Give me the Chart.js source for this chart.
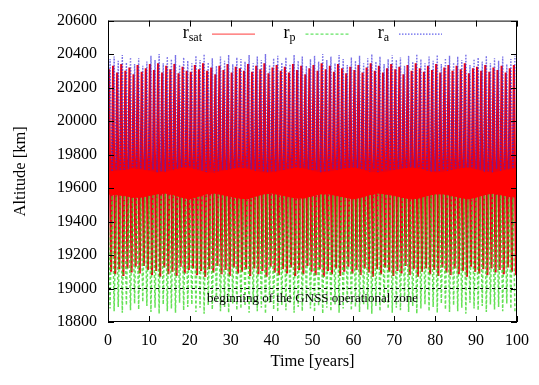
<!DOCTYPE html>
<html>
<head>
<meta charset="utf-8">
<title>Altitude over 100 years</title>
<script src="https://cdn.jsdelivr.net/npm/chart.js@4.4.0/dist/chart.umd.min.js"></script>
<style>
  html, body { margin: 0; padding: 0; background: #fff; }
</style>
</head>
<body>
<canvas id="altChart" width="539" height="385"></canvas>
<script>
// Values (km). One entry per ~1 year oscillation.
const raPeak = [
  20370, 20385, 20360, 20395, 20350, 20380, 20340, 20375, 20330, 20355,
  20390, 20365, 20400, 20345, 20385, 20370, 20395, 20335, 20380, 20360,
  20345, 20390, 20365, 20400, 20350, 20375, 20330, 20385, 20360, 20395,
  20340, 20380, 20370, 20355, 20395, 20345, 20385, 20365, 20400, 20335,
  20375, 20390, 20350, 20380, 20340, 20395, 20360, 20385, 20330, 20370,
  20390, 20355, 20400, 20365, 20385, 20345, 20395, 20370, 20335, 20380,
  20360, 20390, 20345, 20375, 20400, 20355, 20385, 20340, 20370, 20395,
  20365, 20380, 20330, 20390, 20355, 20400, 20370, 20345, 20385, 20360,
  20395, 20340, 20375, 20390, 20350, 20385, 20365, 20400, 20335, 20370,
  20380, 20355, 20390, 20345, 20375, 20360, 20385, 20340, 20370, 20390
];
const raTrough = [
  19700, 19690, 19710, 19695, 19705, 19685, 19700, 19715, 19690, 19705,
  19695, 19710, 19685, 19700, 19690, 19715, 19700, 19695, 19705, 19690,
  19710, 19700, 19685, 19705, 19695, 19715, 19690, 19700, 19710, 19695,
  19705, 19685, 19700, 19715, 19690, 19705, 19695, 19710, 19700, 19685,
  19700, 19690, 19710, 19695, 19705, 19685, 19700, 19715, 19690, 19705,
  19695, 19710, 19685, 19700, 19690, 19715, 19700, 19695, 19705, 19690,
  19710, 19700, 19685, 19705, 19695, 19715, 19690, 19700, 19710, 19695,
  19705, 19685, 19700, 19715, 19690, 19705, 19695, 19710, 19700, 19685,
  19700, 19690, 19710, 19695, 19705, 19685, 19700, 19715, 19690, 19705,
  19695, 19710, 19685, 19700, 19690, 19715, 19700, 19695, 19705, 19690
];
const rpPeak = [
  19575, 19585, 19565, 19580, 19570, 19590, 19575, 19560, 19585, 19570,
  19580, 19565, 19590, 19575, 19585, 19560, 19575, 19580, 19570, 19585,
  19565, 19575, 19590, 19570, 19580, 19560, 19585, 19575, 19565, 19580,
  19570, 19590, 19575, 19560, 19585, 19570, 19580, 19565, 19575, 19590,
  19575, 19585, 19565, 19580, 19570, 19590, 19575, 19560, 19585, 19570,
  19580, 19565, 19590, 19575, 19585, 19560, 19575, 19580, 19570, 19585,
  19565, 19575, 19590, 19570, 19580, 19560, 19585, 19575, 19565, 19580,
  19570, 19590, 19575, 19560, 19585, 19570, 19580, 19565, 19575, 19590,
  19575, 19585, 19565, 19580, 19570, 19590, 19575, 19560, 19585, 19570,
  19580, 19565, 19590, 19575, 19585, 19560, 19575, 19580, 19570, 19585
];
const rpTrough = [
  18880, 18865, 18890, 18855, 18900, 18870, 18910, 18875, 18920, 18895,
  18860, 18885, 18850, 18905, 18865, 18880, 18855, 18915, 18870, 18890,
  18905, 18860, 18885, 18850, 18900, 18875, 18920, 18865, 18890, 18855,
  18910, 18870, 18880, 18895, 18855, 18905, 18865, 18885, 18850, 18915,
  18875, 18860, 18900, 18870, 18910, 18855, 18890, 18865, 18920, 18880,
  18860, 18895, 18850, 18885, 18865, 18905, 18855, 18880, 18915, 18870,
  18890, 18860, 18905, 18875, 18850, 18895, 18865, 18910, 18880, 18855,
  18885, 18870, 18920, 18860, 18895, 18850, 18880, 18905, 18865, 18890,
  18855, 18910, 18875, 18860, 18900, 18865, 18885, 18850, 18915, 18880,
  18870, 18895, 18860, 18905, 18875, 18890, 18865, 18910, 18880, 18860
];
const satHigh = [
  20310, 20330, 20290, 20340, 20300, 20320, 20280, 20335, 20295, 20315,
  20340, 20305, 20345, 20290, 20330, 20310, 20340, 20285, 20325, 20300,
  20295, 20335, 20310, 20345, 20300, 20320, 20280, 20330, 20305, 20340,
  20290, 20325, 20315, 20300, 20340, 20295, 20330, 20310, 20345, 20285,
  20320, 20335, 20300, 20325, 20290, 20340, 20305, 20330, 20280, 20315,
  20335, 20300, 20345, 20310, 20330, 20295, 20340, 20315, 20285, 20325,
  20305, 20335, 20290, 20320, 20345, 20300, 20330, 20290, 20315, 20340,
  20310, 20325, 20280, 20335, 20300, 20345, 20315, 20295, 20330, 20305,
  20340, 20290, 20320, 20335, 20300, 20330, 20310, 20345, 20285, 20315,
  20325, 20300, 20335, 20295, 20320, 20305, 20330, 20290, 20315, 20335
];
const satLow = [
  19100, 19085, 19115, 19075, 19120, 19095, 19130, 19090, 19135, 19110,
  19080, 19105, 19070, 19125, 19085, 19100, 19075, 19130, 19090, 19110,
  19120, 19080, 19105, 19070, 19115, 19095, 19135, 19085, 19110, 19075,
  19125, 19090, 19100, 19115, 19075, 19120, 19085, 19105, 19070, 19130,
  19095, 19080, 19115, 19090, 19125, 19075, 19110, 19085, 19135, 19100,
  19080, 19115, 19070, 19105, 19085, 19120, 19075, 19100, 19130, 19090,
  19110, 19080, 19120, 19095, 19070, 19115, 19085, 19125, 19100, 19075,
  19105, 19090, 19135, 19080, 19115, 19070, 19100, 19120, 19085, 19110,
  19075, 19125, 19095, 19080, 19120, 19085, 19105, 19070, 19130, 19100,
  19090, 19115, 19080, 19120, 19095, 19110, 19085, 19125, 19100, 19080
];
// dense red band of r_sat, every 2 years
const bandTop = [
  19695, 19700, 19705, 19715, 19710, 19700, 19690, 19695, 19705, 19720,
  19720, 19705, 19690, 19690, 19700, 19710, 19720, 19715, 19700, 19690,
  19690, 19700, 19710, 19720, 19715, 19700, 19690, 19695, 19705, 19715,
  19720, 19710, 19695, 19690, 19695, 19705, 19715, 19720, 19715, 19700,
  19690, 19695, 19705, 19715, 19720, 19710, 19695, 19690, 19700, 19710,
  19715
];
const bandBottom = [
  19565, 19560, 19555, 19545, 19545, 19555, 19565, 19570, 19560, 19545,
  19535, 19550, 19565, 19570, 19560, 19550, 19540, 19535, 19550, 19565,
  19570, 19560, 19550, 19540, 19540, 19555, 19565, 19565, 19555, 19545,
  19535, 19545, 19560, 19570, 19565, 19555, 19545, 19535, 19540, 19555,
  19565, 19565, 19555, 19545, 19535, 19545, 19560, 19570, 19560, 19550,
  19545
];

const xTicks = [0, 10, 20, 30, 40, 50, 60, 70, 80, 90, 100];
const yTicks = [18800, 19000, 19200, 19400, 19600, 19800, 20000, 20200, 20400, 20600];
const seriesNames = ['r', 'r', 'r'];
const seriesSubs = ['sat', 'p', 'a'];
const zoneStart = 19000;
const zoneLabel = 'beginning of the GNSS operational zone';

const serif = '"Liberation Serif", "DejaVu Serif", serif';

// two points per cycle: first array at offset a, second at offset b
function zigzag(first, second, a, b) {
  const pts = [];
  for (let i = 0; i < first.length; i++) {
    pts.push({ x: i + a, y: first[i] });
    pts.push({ x: i + b, y: second[i] });
  }
  return pts;
}

function band(vals) {
  return vals.map((v, i) => ({ x: i * 2, y: v }));
}

// ticks inside on all four sides, frame, legend and zone label
const gnuFrame = {
  id: 'gnuFrame',
  afterDraw(chart) {
    const { ctx, chartArea: a, scales: { x, y } } = chart;
    ctx.save();
    ctx.strokeStyle = '#000';
    ctx.lineWidth = 1;
    ctx.setLineDash([]);
    ctx.beginPath();
    xTicks.forEach(v => {
      const px = Math.round(x.getPixelForValue(v)) + 0.5;
      ctx.moveTo(px, a.bottom); ctx.lineTo(px, a.bottom - 6);
      ctx.moveTo(px, a.top); ctx.lineTo(px, a.top + 6);
    });
    yTicks.forEach(v => {
      const py = Math.round(y.getPixelForValue(v)) + 0.5;
      ctx.moveTo(a.left, py); ctx.lineTo(a.left + 6, py);
      ctx.moveTo(a.right, py); ctx.lineTo(a.right - 6, py);
    });
    ctx.stroke();
    ctx.strokeRect(a.left + 0.5, a.top + 0.5, a.width - 1, a.height - 1);

    // zone label
    ctx.fillStyle = '#000';
    ctx.font = '13px ' + serif;
    ctx.textAlign = 'center';
    ctx.textBaseline = 'middle';
    ctx.fillText(zoneLabel, x.getPixelForValue(50), y.getPixelForValue(zoneStart) + 10);

    // legend: text then line sample
    const ds = chart.data.datasets;
    const sampleColors = ['rgb(255,60,60)', 'rgb(60,220,60)', 'rgb(60,60,230)'];
    for (let i = 0; i < 3; i++) {
      const sx = a.left + 104 + i * 93.5;
      const sy = a.top + 13.5;
      ctx.font = '12px ' + serif;
      const subW = ctx.measureText(seriesSubs[i]).width;
      ctx.textAlign = 'left';
      ctx.textBaseline = 'alphabetic';
      const endX = sx - 10;
      ctx.fillText(seriesSubs[i], endX - subW, sy + 7);
      ctx.font = '18px ' + serif;
      ctx.textAlign = 'right';
      ctx.fillText(seriesNames[i], endX - subW, sy + 4);
      ctx.strokeStyle = sampleColors[i];
      ctx.lineWidth = 1;
      ctx.setLineDash(ds[i].borderDash || []);
      ctx.beginPath();
      ctx.moveTo(sx, sy);
      ctx.lineTo(sx + 43, sy);
      ctx.stroke();
    }
    ctx.restore();
  }
};

const ctx = document.getElementById('altChart').getContext('2d');
new Chart(ctx, {
  type: 'line',
  data: {
    datasets: [
      {
        label: 'r_sat',
        data: zigzag(satHigh, satLow, 0.25, 0.75),
        borderColor: 'rgb(235,0,20)',
        borderWidth: 2.2,
        order: 5
      },
      {
        label: 'r_p',
        data: zigzag(rpPeak, rpTrough, 0, 0.5),
        borderColor: 'rgba(50,215,30,0.75)',
        borderWidth: 1.5,
        borderDash: [3, 2],
        order: 4
      },
      {
        label: 'r_a',
        data: zigzag(raTrough, raPeak, 0, 0.5),
        borderColor: 'rgba(50,40,220,0.65)',
        borderWidth: 1.4,
        borderDash: [1.5, 1.5],
        order: 3
      },
      {
        label: 'band top',
        data: band(bandTop),
        borderColor: 'rgb(255,0,0)',
        borderWidth: 1,
        order: 2
      },
      {
        label: 'band bottom',
        data: band(bandBottom),
        borderColor: 'rgb(255,0,0)',
        backgroundColor: 'rgb(255,0,0)',
        borderWidth: 1,
        fill: 3,
        order: 1
      },
      {
        label: 'zone',
        data: [{ x: xTicks[0], y: zoneStart }, { x: xTicks[xTicks.length - 1], y: zoneStart }],
        borderColor: '#000',
        borderWidth: 1,
        borderDash: [3, 3],
        order: 0
      }
    ]
  },
  options: {
    responsive: false,
    animation: false,
    events: [],
    layout: { padding: { top: 17, right: 22, left: 0, bottom: 0 } },
    elements: { point: { radius: 0 }, line: { tension: 0 } },
    plugins: { legend: { display: false }, tooltip: { enabled: false } },
    scales: {
      x: {
        type: 'linear',
        min: 0,
        max: 100,
        afterBuildTicks: s => { s.ticks = xTicks.map(v => ({ value: v })); },
        afterFit: s => { s.height = 63; },
        grid: { display: false, drawTicks: false },
        border: { display: false },
        ticks: { color: '#000', padding: 9, maxRotation: 0, font: { family: serif, size: 16 }, callback: v => String(v) },
        title: { display: true, text: 'Time [years]', color: '#000', padding: { bottom: 13 }, font: { family: serif, size: 16.5 } }
      },
      y: {
        type: 'linear',
        min: 18800,
        max: 20600,
        afterBuildTicks: s => { s.ticks = yTicks.map(v => ({ value: v })); },
        afterFit: s => { s.width = 108; },
        grid: { display: false, drawTicks: false },
        border: { display: false },
        ticks: { color: '#000', padding: 11, font: { family: serif, size: 16 }, callback: v => String(v) },
        title: { display: true, text: 'Altitude [km]', color: '#000', padding: { top: 11 }, font: { family: serif, size: 16.5 } }
      }
    }
  },
  plugins: [gnuFrame]
});
</script>
</body>
</html>
